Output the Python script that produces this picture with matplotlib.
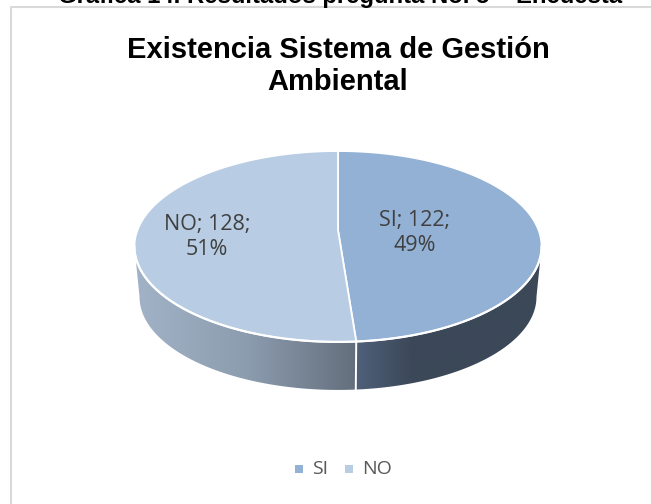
import numpy as np
import matplotlib
matplotlib.use("Agg")
import matplotlib.pyplot as plt
from matplotlib.colors import LinearSegmentedColormap
from matplotlib.patches import Polygon, Rectangle

# Datos
categorias = ["SI", "NO"]
valores = [122, 128]
porcentajes = ["49%", "51%"]
colores = ["#93b1d5", "#b8cde3"]

titulo = "Existencia Sistema de Gestión\nAmbiental"
titulo_recortado = "Gráfica 14. Resultados pregunta No. 5 – Encuesta"

W, H = 651, 504
plt.rcParams["font.family"] = ["Liberation Sans", "DejaVu Sans"]

fig = plt.figure(figsize=(W / 100, H / 100), dpi=100)
ax = fig.add_axes([0, 0, 1, 1])
ax.axis("off")

# Geometria del disco en perspectiva (pixeles de la imagen)
cx, cy = 338, 230
R, B, k = 200.5, 92.6, 0.1727
s_base, dy_base = 0.975, 50.8


# Angulo medido desde las 12 en sentido horario
def disco(theta, escala=1.0, dy=0.0):
    u, v = np.sin(theta), -np.cos(theta)
    w = 1 - k * v
    return cx + escala * R * u / w, cy + dy + escala * B * v / w


fracciones = np.array(valores) / sum(valores)
limites = np.concatenate([[0], np.cumsum(fracciones)]) * 2 * np.pi

# Bordes laterales: donde la elipse es mas ancha
theta_der = np.pi / 2 + np.arcsin(k)
theta_izq = 2 * np.pi - theta_der

# Cara lateral con degradado
cmap_si = LinearSegmentedColormap.from_list("si", [(0, "#4f6079"), (0.3, "#3c4859"), (1, "#3b4858")])
cmap_no = LinearSegmentedColormap.from_list("no", ["#a3b3c7", "#8d9db0", "#646f7d"])
tramos = [
    (theta_der, limites[1], cmap_si),
    (limites[1], theta_izq, cmap_no),
]
for t0, t1, cmap in tramos:
    th = np.linspace(t0, t1, 200)
    xa, ya = disco(th)
    xb, yb = disco(th, s_base, dy_base)
    pts = np.column_stack([np.r_[xa, xb[::-1]], np.r_[ya, yb[::-1]]])
    clip = Polygon(pts, closed=True, transform=ax.transData, fc="none", ec="none")
    ax.add_patch(clip)
    grad = np.linspace(0, 1, 256)[None, :]
    im = ax.imshow(grad, cmap=cmap, vmin=0, vmax=1, aspect="auto", interpolation="bilinear",
                   extent=[pts[:, 0].min(), pts[:, 0].max(), pts[:, 1].max(), pts[:, 1].min()])
    im.set_clip_path(clip)

# Separador blanco en el lateral
xa, ya = disco(limites[1])
xb, yb = disco(limites[1], s_base, dy_base)
ax.plot([xa, xb], [ya, yb], color="white", lw=1.4, zorder=3)
th = np.linspace(theta_der, theta_izq, 200)
ax.plot(*disco(th), color="white", lw=1.6, zorder=4)

# Cara superior
for i, color in enumerate(colores):
    th = np.linspace(limites[i], limites[i + 1], 300)
    x, y = disco(th)
    ax.add_patch(Polygon(np.column_stack([np.r_[cx, x], np.r_[cy, y]]), closed=True,
                         fc=color, ec="white", lw=1.3, joinstyle="round", zorder=3))

# Etiquetas de datos
pos_etiquetas = [(415, 233), (207, 237)]
for cat, val, pct, (px, py) in zip(categorias, valores, porcentajes, pos_etiquetas):
    ax.text(px, py, f"{cat}; {val};\n{pct}", ha="center", va="center", fontsize=15.5,
            color="#404040", family=["Open Sans", "DejaVu Sans"], linespacing=1.2, zorder=5)

# Marco del grafico
ax.plot([11, 11, W], [H, 6.5, 6.5], color="#d9d9d9", lw=1.5, zorder=1)

# Titulos
ax.text(338, 66, titulo, ha="center", va="center", fontsize=21, fontweight="bold",
        color="black", linespacing=1.2, zorder=5)
ax.text(340, 3, titulo_recortado, ha="center", va="baseline", fontsize=17.2, fontweight="bold",
        color="black", zorder=5)

# Leyenda
ley_x = [299, 349]
for cat, color, lx in zip(categorias, colores, ley_x):
    ax.add_patch(Rectangle((lx - 4, 465), 8, 8, fc=color, ec="none"))
    ax.text(lx + 13, 469, cat, ha="left", va="center", fontsize=14, color="#595959",
            family=["Open Sans", "DejaVu Sans"])

ax.set_xlim(0, W)
ax.set_ylim(H, 0)
fig.savefig("out.png", dpi=100, facecolor="white")
